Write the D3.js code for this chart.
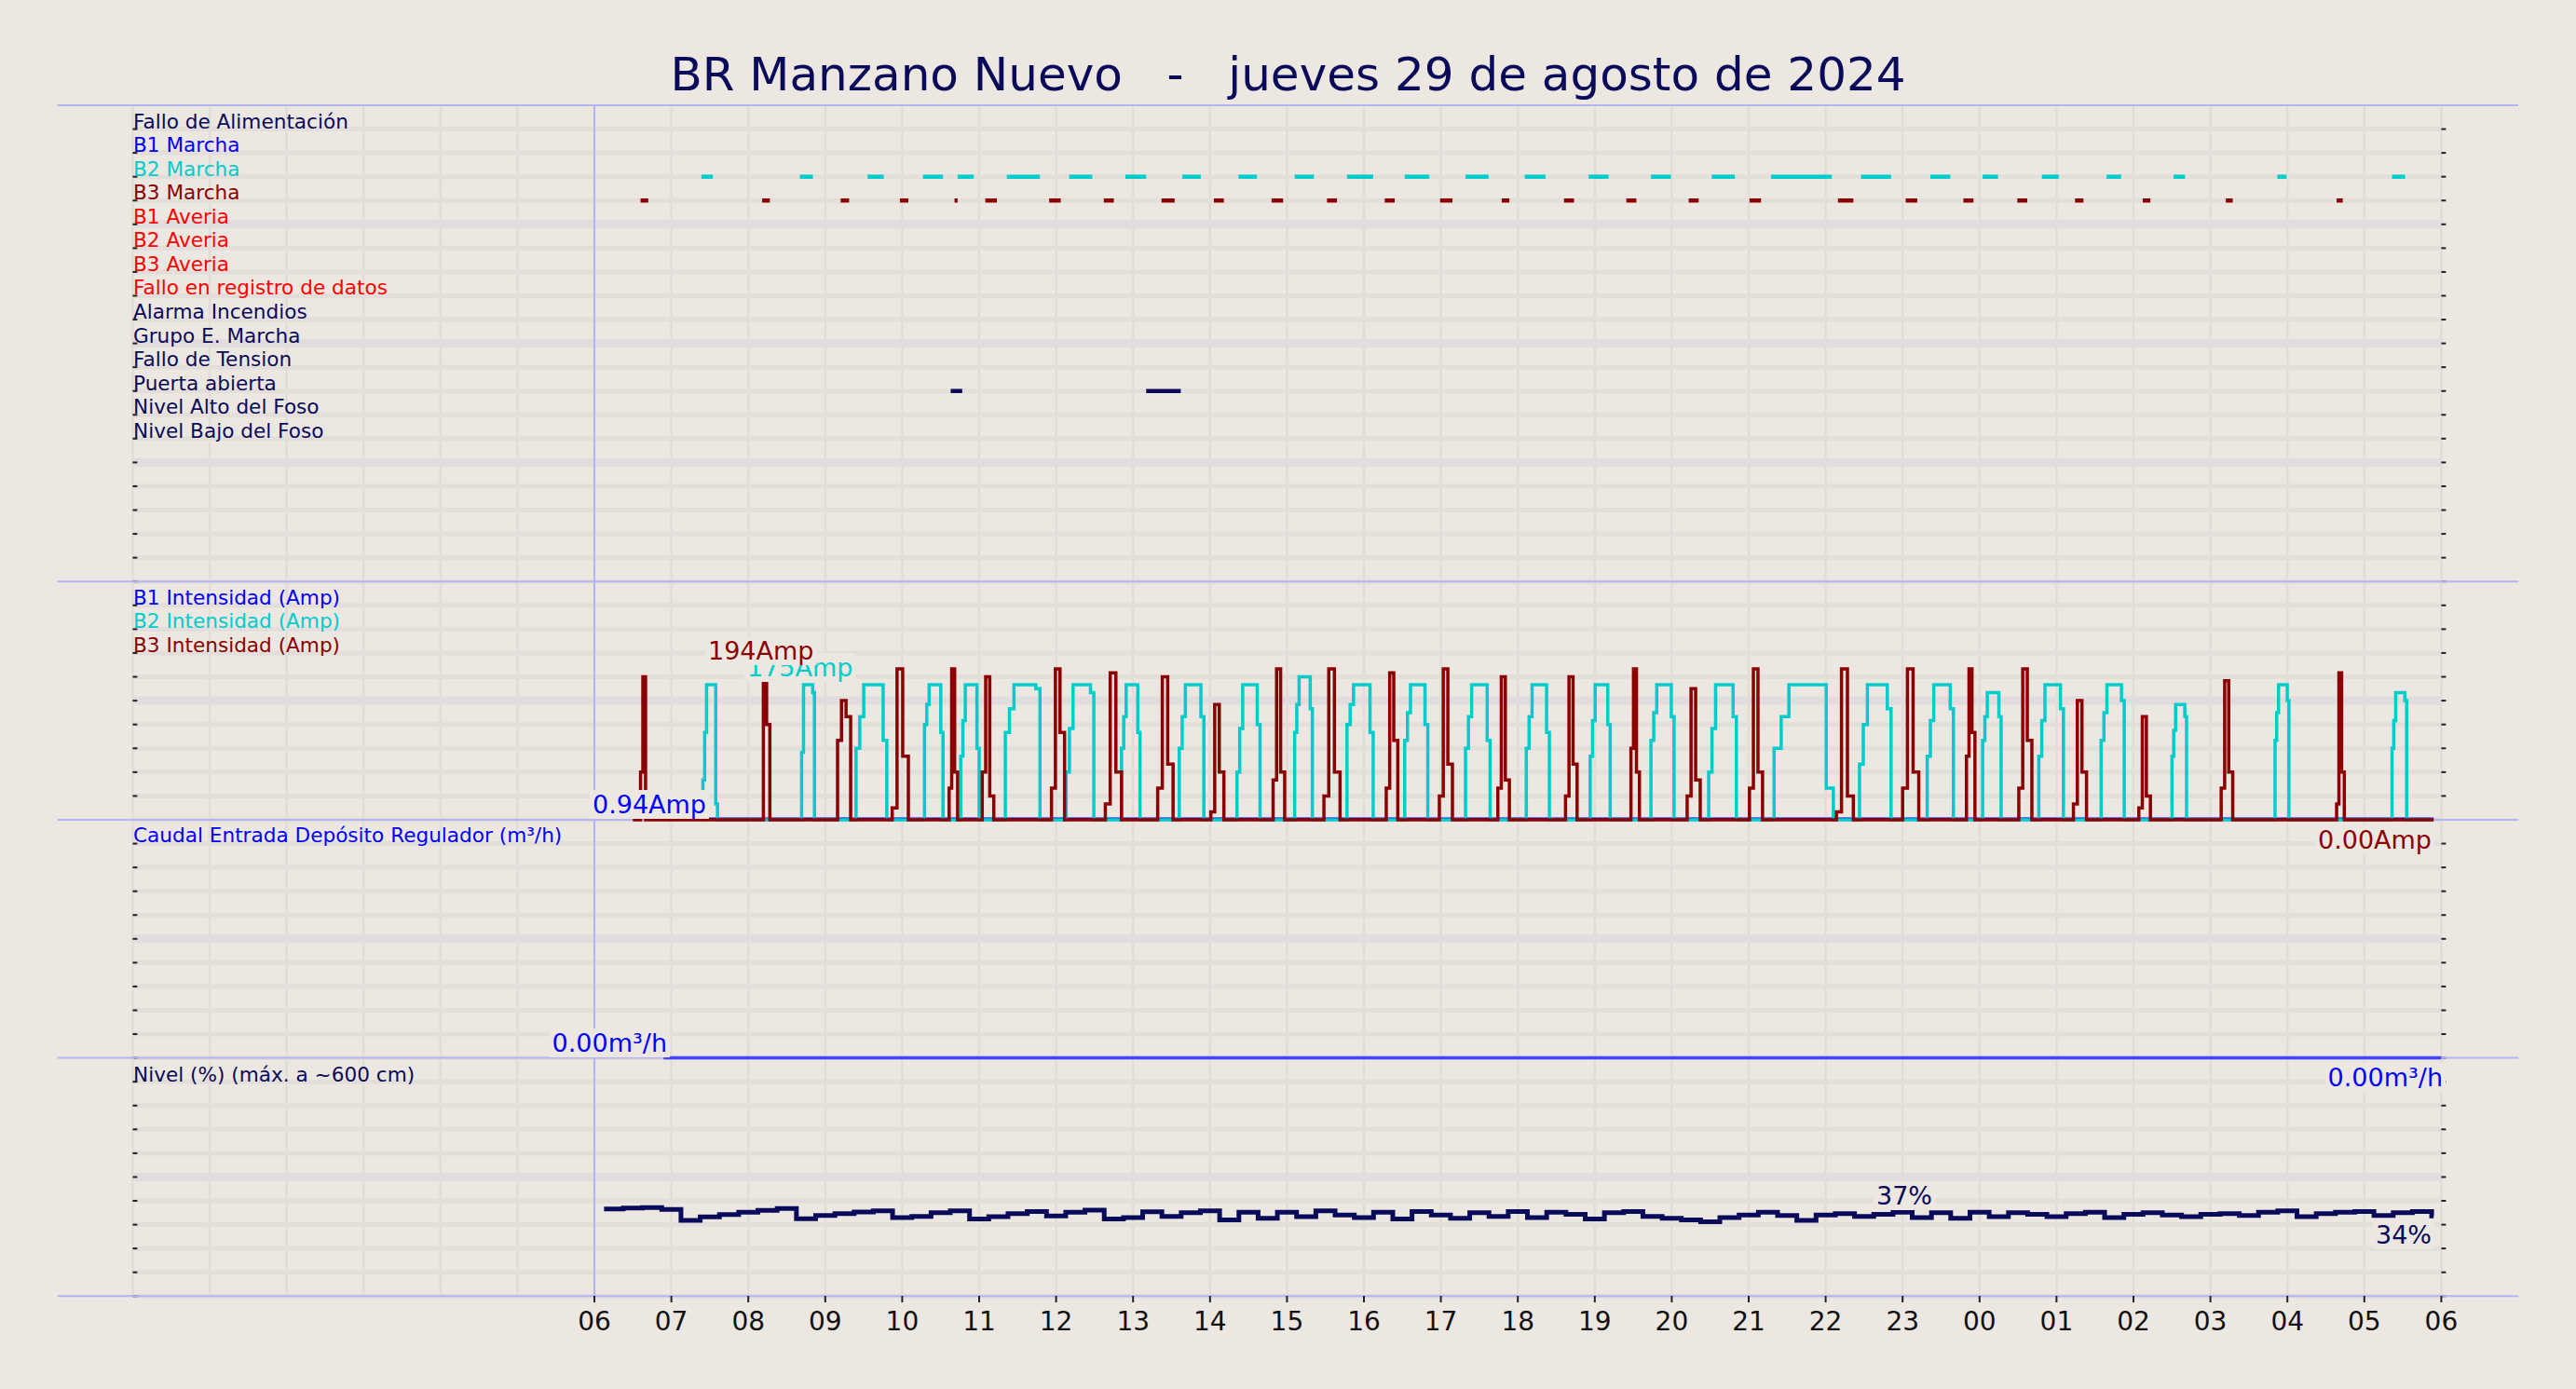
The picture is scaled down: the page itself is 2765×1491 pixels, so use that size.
<!DOCTYPE html>
<html><head><meta charset="utf-8">
<script src="https://cdn.jsdelivr.net/npm/d3@7"></script>
<style>body{margin:0;background:#ece7e1;} text{font-family:"DejaVu Sans",sans-serif;}</style>
</head><body>
<script>
// hours counted from 00:00 of 29 Aug (24+ = next day)
var hourLabels = ["06","07","08","09","10","11","12","13","14","15","16","17","18","19","20","21","22","23","00","01","02","03","04","05","06"];

var rowNames = ["Fallo de Alimentación","B1 Marcha","B2 Marcha","B3 Marcha","B1 Averia","B2 Averia","B3 Averia",
  "Fallo en registro de datos","Alarma Incendios","Grupo E. Marcha","Fallo de Tension","Puerta abierta","Nivel Alto del Foso","Nivel Bajo del Foso"];
var rowColors = ["#0a0a5a","#0000ff","#00cccc","#8b0000","#ff0000","#ff0000","#ff0000","#ff0000","#0a0a5a","#0a0a5a","#0a0a5a","#0a0a5a","#0a0a5a","#0a0a5a"];

var b2Marcha = [[7.39,7.54],[8.67,8.84],[9.55,9.76],[10.27,10.53],[10.72,10.93],[11.36,11.79],[12.17,12.47],[12.9,13.17],
  [13.64,13.88],[14.37,14.61],[15.1,15.35],[15.78,16.12],[16.53,16.85],[17.32,17.62],[18.09,18.36],[18.92,19.18],[19.73,19.99],
  [20.52,20.82],[21.29,22.08],[22.46,22.85],[23.36,23.62],[24.04,24.24],[24.81,25.03],[25.65,25.84],[26.52,26.67],[27.87,27.99],[29.36,29.53]];
var b3Marcha = [[6.6,6.7],[8.18,8.28],[9.2,9.31],[9.97,10.08],[10.68,10.72],[11.08,11.23],[11.91,12.06],[12.62,12.75],[13.37,13.54],
  [14.05,14.18],[14.8,14.95],[15.52,15.65],[16.27,16.4],[16.99,17.15],[17.79,17.89],[18.6,18.73],[19.41,19.54],[20.22,20.35],
  [21.01,21.16],[22.16,22.36],[23.04,23.19],[23.79,23.92],[24.49,24.62],[25.24,25.35],[26.12,26.22],[27.2,27.29],[28.64,28.72]];
var puerta = [[10.63,10.78],[13.17,13.62]];

// B3 intensity runs: start, end, rise, peak, tail (Amp)
var b3Runs = [[6.6,6.7,60,180,0],[8.16,8.28,0,194,120],[9.16,9.33,100,150,130],[9.87,10.08,15,190,80],[10.61,10.72,40,190,60],
  [11.04,11.19,60,180,30],[11.94,12.11,40,190,110],[12.64,12.85,20,185,60],[13.32,13.52,40,180,70],[14.01,14.18,10,145,60],
  [14.82,14.97,50,190,60],[15.48,15.69,30,190,60],[16.29,16.44,40,185,100],[16.98,17.15,30,190,70],[17.74,17.89,40,180,50],
  [18.62,18.77,30,180,70],[19.47,19.58,90,190,60],[20.2,20.37,30,165,50],[21.01,21.18,40,190,60],[22.14,22.36,10,190,30],
  [23.0,23.21,40,190,60],[23.83,23.94,80,190,110],[24.51,24.68,40,190,100],[25.22,25.39,20,150,60],[26.07,26.22,15,130,30],
  [27.14,27.29,40,175,60],[28.64,28.74,20,185,60]];
// B2 intensity runs: start, end, rise, peak, tail (Amp)
var b2Runs = [[7.41,7.6,50,170,20],[8.67,8.86,0,170,160],[9.4,9.8,90,170,100],[10.29,10.53,120,170,110],[10.76,11.0,80,170,90],
  [11.34,11.79,110,170,165],[12.13,12.49,60,170,160],[12.85,13.09,90,170,110],[13.6,13.92,90,170,130],[14.35,14.65,60,170,120],
  [15.1,15.33,110,180,140],[15.78,16.12,120,170,110],[16.53,16.83,100,170,120],[17.32,17.64,90,170,100],[18.11,18.41,90,170,110],
  [18.94,19.2,80,170,120],[19.73,20.03,100,170,130],[20.48,20.84,60,170,130],[21.33,22.1,90,170,40],[22.44,22.85,70,170,140],
  [23.32,23.66,80,170,140],[24.04,24.28,100,160,130],[24.77,25.09,80,170,140],[25.58,25.88,100,170,150],[26.5,26.69,80,145,130],
  [27.84,28.02,100,170,150],[29.36,29.55,90,160,150]];

// depot level (%) every 15 min from 06:07
var levelStart = 6.125;
var levels = [36.6,37.0,37.2,36.4,31.8,33.3,34.2,35.2,36.0,36.8,32.5,33.8,34.6,35.3,35.8,33.0,33.5,35.0,35.8,32.4,33.4,34.6,35.5,33.7,
  35.2,36.1,32.4,33.0,35.4,33.5,35.0,35.8,32.0,35.2,32.7,35.2,33.4,35.8,34.0,33.0,35.2,32.4,35.5,34.0,32.7,35.0,33.5,35.5,
  33.0,35.2,34.3,32.4,35.0,35.5,33.5,32.7,32.0,31.2,33.0,34.0,35.2,33.8,31.8,34.0,34.6,33.5,34.3,35.2,33.0,35.0,32.7,35.2,
  33.4,35.0,34.3,33.4,34.6,35.2,33.0,34.3,35.0,34.0,33.4,34.3,34.6,33.8,35.2,35.8,33.4,34.6,35.2,35.5,33.8,35.0,35.5,33.7];

var W = 2765, H = 1491;
var svg = d3.select("body").append("svg").attr("width", W).attr("height", H);
svg.append("rect").attr("width", W).attr("height", H).attr("fill", "#ece7e1");

var x = d3.scaleLinear().domain([0, 30]).range([142.4, 2620.4]);
var panels = [{top:113, bottom:624.2, rows:20}, {top:624.2, bottom:880, rows:10}, {top:880, bottom:1135.6, rows:10}, {top:1135.6, bottom:1391.3, rows:10}];

// grids
panels.forEach(function(p) {
  var ys = d3.scaleLinear().domain([0, p.rows]).range([p.top, p.bottom]);
  d3.range(0, 31).forEach(function(h) {
    svg.append("line").attr("x1", x(h)).attr("x2", x(h)).attr("y1", p.top).attr("y2", p.bottom)
      .attr("stroke", "#e2dcd8").attr("stroke-width", 2.5);
  });
  d3.range(1, p.rows + 1).forEach(function(r) {
    var thick = (r % 5 == 0 && r != p.rows);
    svg.append("line").attr("x1", x(0)).attr("x2", x(30)).attr("y1", ys(r)).attr("y2", ys(r))
      .attr("stroke", thick ? "#e2dcdc" : "#e4dedb").attr("stroke-width", thick ? 9 : 5);
    svg.append("line").attr("x1", x(30)).attr("x2", x(30) + 5).attr("y1", ys(r)).attr("y2", ys(r)).attr("stroke", "#222").attr("stroke-width", 2);
    svg.append("line").attr("x1", x(0)).attr("x2", x(0) + 5).attr("y1", ys(r)).attr("y2", ys(r)).attr("stroke", "#222").attr("stroke-width", 2);
  });
});
// separators
[113, 624.2, 880, 1135.6, 1391.3].forEach(function(y) {
  svg.append("line").attr("x1", 61.7).attr("x2", 2703).attr("y1", y).attr("y2", y).attr("stroke", "#b4b4f0").attr("stroke-width", 2);
});
svg.append("line").attr("x1", x(6)).attr("x2", x(6)).attr("y1", 113).attr("y2", 1391.3).attr("stroke", "#b4b4f0").attr("stroke-width", 2);

// title
svg.append("text").attr("x", W / 2).attr("y", 97).attr("text-anchor", "middle").attr("font-size", 50)
  .attr("fill", "#0a0a5a").attr("xml:space", "preserve").text("BR Manzano Nuevo   -   jueves 29 de agosto de 2024");

// panel 1: events
var yRow = d3.scaleLinear().domain([0, 20]).range([panels[0].top, panels[0].bottom]);
rowNames.forEach(function(n, i) {
  svg.append("text").attr("x", 143).attr("y", yRow(i + 1) - 1).attr("font-size", 21.6).attr("fill", rowColors[i]).text(n);
});
function drawEvents(list, row, color) {
  svg.selectAll(null).data(list).enter().append("line")
    .attr("x1", function(d) { return x(d[0]); }).attr("x2", function(d) { return x(d[1]); })
    .attr("y1", yRow(row + 1)).attr("y2", yRow(row + 1)).attr("stroke", color).attr("stroke-width", 4.5);
}
drawEvents(b2Marcha, 2, "#00cccc");
drawEvents(b3Marcha, 3, "#8b0000");
drawEvents(puerta, 11, "#0a0a5a");

// label helper with background box
function label(txt, px, py, color, anchor, size) {
  var g = svg.append("g");
  var t = g.append("text").attr("x", px).attr("y", py).attr("text-anchor", anchor).attr("font-size", size).attr("fill", color).text(txt);
  var b = t.node().getBBox();
  g.insert("rect", "text").attr("x", b.x - 3).attr("y", b.y).attr("width", b.width + 6).attr("height", b.height).attr("fill", "#ece7e1");
}

// panel 2: intensity
var yA = d3.scaleLinear().domain([0, 300]).range([panels[1].bottom, panels[1].top]);
var stepLine = d3.line().x(function(d) { return x(d[0]); }).y(function(d) { return yA(d[1]); }).curve(d3.curveStepAfter);
function b3Points() {
  var pts = [[6.5, 0]];
  b3Runs.forEach(function(r) {
    var d = r[1] - r[0];
    pts.push([r[0], r[2]], [r[0] + d * 0.3, r[3]], [r[0] + d * 0.65, r[4]], [r[1], 0]);
  });
  pts.push([29.9, 0]);
  return pts;
}
function b2Points() {
  var pts = [[7.4, 0]];
  b2Runs.forEach(function(r) {
    var d = r[1] - r[0];
    pts.push([r[0], r[2]], [r[0] + d * 0.12, (r[2] + r[3]) / 2], [r[0] + d * 0.25, r[3]], [r[1] - d * 0.12, r[4]], [r[1], 0]);
  });
  pts.push([29.9, 0]);
  return pts;
}
svg.append("path").attr("d", stepLine([[7.4, 1], [29.9, 1]])).attr("fill", "none").attr("stroke", "#0000ff").attr("stroke-width", 3.5);
svg.append("path").attr("d", stepLine(b2Points())).attr("fill", "none").attr("stroke", "#00cccc").attr("stroke-width", 3.5);
svg.append("path").attr("d", stepLine(b3Points())).attr("fill", "none").attr("stroke", "#8b0000").attr("stroke-width", 3.5);

[["B1 Intensidad (Amp)", "#0000ff"], ["B2 Intensidad (Amp)", "#00cccc"], ["B3 Intensidad (Amp)", "#8b0000"]].forEach(function(l, i) {
  svg.append("text").attr("x", 143).attr("y", panels[1].top + 25.6 * (i + 1) - 1).attr("font-size", 21.6).attr("fill", l[1]).text(l[0]);
});
label("175Amp", 802, 726, "#00cccc", "start", 27);
label("194Amp", 760, 708, "#8b0000", "start", 27);
label("0.94Amp", 758, 873, "#0000ff", "end", 27);
label("0.00Amp", 2610, 911, "#8b0000", "end", 27);

// panel 3: flow
var yQ = d3.scaleLinear().domain([0, 10]).range([panels[2].bottom, panels[2].top]);
svg.append("text").attr("x", 143).attr("y", panels[2].top + 24).attr("font-size", 21.6).attr("fill", "#0000ff").text("Caudal Entrada Depósito Regulador (m³/h)");
svg.append("path").attr("d", stepLine.y(function(d) { return yQ(d[1]); })([[6.9, 0], [30, 0]])).attr("fill", "none").attr("stroke", "#4444ff").attr("stroke-width", 3.5);
label("0.00m³/h", 716, 1129, "#0000ff", "end", 27);
label("0.00m³/h", 2622, 1166, "#0000ff", "end", 27);

// panel 4: level
var yL = d3.scaleLinear().domain([0, 100]).range([panels[3].bottom, panels[3].top]);
svg.append("text").attr("x", 143).attr("y", panels[3].top + 25).attr("font-size", 21.6).attr("fill", "#0a0a5a").text("Nivel (%) (máx. a ~600 cm)");
var lvPts = levels.map(function(v, i) { return [levelStart + i * 0.25, v]; });
lvPts.push([29.9, levels[levels.length - 1]]);
svg.append("path").attr("d", stepLine.y(function(d) { return yL(d[1]); })(lvPts)).attr("fill", "none").attr("stroke", "#0a0a5a").attr("stroke-width", 5);
label("37%", 2044, 1293, "#0a0a5a", "middle", 27);
label("34%", 2610, 1335, "#0a0a5a", "end", 27);

// x axis
svg.selectAll(null).data(hourLabels).enter().append("text")
  .attr("x", function(d, i) { return x(6 + i); }).attr("y", 1428).attr("text-anchor", "middle")
  .attr("font-size", 28).attr("fill", "#111").text(function(d) { return d; });
svg.selectAll(null).data(hourLabels).enter().append("line")
  .attr("x1", function(d, i) { return x(6 + i); }).attr("x2", function(d, i) { return x(6 + i); })
  .attr("y1", 1391).attr("y2", 1398).attr("stroke", "#222").attr("stroke-width", 2);
</script>
</body></html>
